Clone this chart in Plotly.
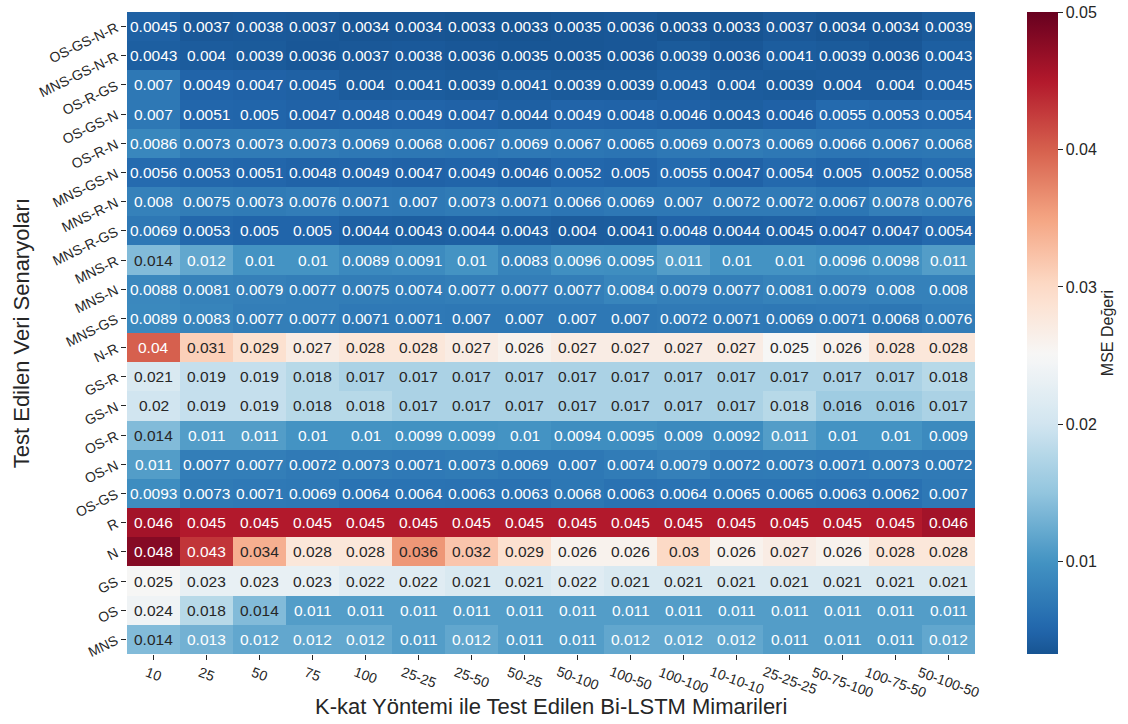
import plotly.graph_objects as go

# Test scenarios (rows, top to bottom) and Bi-LSTM architectures (columns)
scenarios = [
    "OS-GS-N-R", "MNS-GS-N-R", "OS-R-GS", "OS-GS-N", "OS-R-N", "MNS-GS-N",
    "MNS-R-N", "MNS-R-GS", "MNS-R", "MNS-N", "MNS-GS", "N-R", "GS-R", "GS-N",
    "OS-R", "OS-N", "OS-GS", "R", "N", "GS", "OS", "MNS",
]
architectures = [
    "10", "25", "50", "75", "100", "25-25", "25-50", "50-25", "50-100",
    "100-50", "100-100", "10-10-10", "25-25-25", "50-75-100", "100-75-50",
    "50-100-50",
]

# MSE values, one list per scenario
os_gs_n_r = [0.0045, 0.0037, 0.0038, 0.0037, 0.0034, 0.0034, 0.0033, 0.0033, 0.0035, 0.0036, 0.0033, 0.0033, 0.0037, 0.0034, 0.0034, 0.0039]
mns_gs_n_r = [0.0043, 0.004, 0.0039, 0.0036, 0.0037, 0.0038, 0.0036, 0.0035, 0.0035, 0.0036, 0.0039, 0.0036, 0.0041, 0.0039, 0.0036, 0.0043]
os_r_gs = [0.007, 0.0049, 0.0047, 0.0045, 0.004, 0.0041, 0.0039, 0.0041, 0.0039, 0.0039, 0.0043, 0.004, 0.0039, 0.004, 0.004, 0.0045]
os_gs_n = [0.007, 0.0051, 0.005, 0.0047, 0.0048, 0.0049, 0.0047, 0.0044, 0.0049, 0.0048, 0.0046, 0.0043, 0.0046, 0.0055, 0.0053, 0.0054]
os_r_n = [0.0086, 0.0073, 0.0073, 0.0073, 0.0069, 0.0068, 0.0067, 0.0069, 0.0067, 0.0065, 0.0069, 0.0073, 0.0069, 0.0066, 0.0067, 0.0068]
mns_gs_n = [0.0056, 0.0053, 0.0051, 0.0048, 0.0049, 0.0047, 0.0049, 0.0046, 0.0052, 0.005, 0.0055, 0.0047, 0.0054, 0.005, 0.0052, 0.0058]
mns_r_n = [0.008, 0.0075, 0.0073, 0.0076, 0.0071, 0.007, 0.0073, 0.0071, 0.0066, 0.0069, 0.007, 0.0072, 0.0072, 0.0067, 0.0078, 0.0076]
mns_r_gs = [0.0069, 0.0053, 0.005, 0.005, 0.0044, 0.0043, 0.0044, 0.0043, 0.004, 0.0041, 0.0048, 0.0044, 0.0045, 0.0047, 0.0047, 0.0054]
mns_r = [0.014, 0.012, 0.01, 0.01, 0.0089, 0.0091, 0.01, 0.0083, 0.0096, 0.0095, 0.011, 0.01, 0.01, 0.0096, 0.0098, 0.011]
mns_n = [0.0088, 0.0081, 0.0079, 0.0077, 0.0075, 0.0074, 0.0077, 0.0077, 0.0077, 0.0084, 0.0079, 0.0077, 0.0081, 0.0079, 0.008, 0.008]
mns_gs = [0.0089, 0.0083, 0.0077, 0.0077, 0.0071, 0.0071, 0.007, 0.007, 0.007, 0.007, 0.0072, 0.0071, 0.0069, 0.0071, 0.0068, 0.0076]
n_r = [0.04, 0.031, 0.029, 0.027, 0.028, 0.028, 0.027, 0.026, 0.027, 0.027, 0.027, 0.027, 0.025, 0.026, 0.028, 0.028]
gs_r = [0.021, 0.019, 0.019, 0.018, 0.017, 0.017, 0.017, 0.017, 0.017, 0.017, 0.017, 0.017, 0.017, 0.017, 0.017, 0.018]
gs_n = [0.02, 0.019, 0.019, 0.018, 0.018, 0.017, 0.017, 0.017, 0.017, 0.017, 0.017, 0.017, 0.018, 0.016, 0.016, 0.017]
os_r = [0.014, 0.011, 0.011, 0.01, 0.01, 0.0099, 0.0099, 0.01, 0.0094, 0.0095, 0.009, 0.0092, 0.011, 0.01, 0.01, 0.009]
os_n = [0.011, 0.0077, 0.0077, 0.0072, 0.0073, 0.0071, 0.0073, 0.0069, 0.007, 0.0074, 0.0079, 0.0072, 0.0073, 0.0071, 0.0073, 0.0072]
os_gs = [0.0093, 0.0073, 0.0071, 0.0069, 0.0064, 0.0064, 0.0063, 0.0063, 0.0068, 0.0063, 0.0064, 0.0065, 0.0065, 0.0063, 0.0062, 0.007]
r = [0.046, 0.045, 0.045, 0.045, 0.045, 0.045, 0.045, 0.045, 0.045, 0.045, 0.045, 0.045, 0.045, 0.045, 0.045, 0.046]
n = [0.048, 0.043, 0.034, 0.028, 0.028, 0.036, 0.032, 0.029, 0.026, 0.026, 0.03, 0.026, 0.027, 0.026, 0.028, 0.028]
gs = [0.025, 0.023, 0.023, 0.023, 0.022, 0.022, 0.021, 0.021, 0.022, 0.021, 0.021, 0.021, 0.021, 0.021, 0.021, 0.021]
os_ = [0.024, 0.018, 0.014, 0.011, 0.011, 0.011, 0.011, 0.011, 0.011, 0.011, 0.011, 0.011, 0.011, 0.011, 0.011, 0.011]
mns = [0.014, 0.013, 0.012, 0.012, 0.012, 0.011, 0.012, 0.011, 0.011, 0.012, 0.012, 0.012, 0.011, 0.011, 0.011, 0.012]

mse = [os_gs_n_r, mns_gs_n_r, os_r_gs, os_gs_n, os_r_n, mns_gs_n, mns_r_n,
       mns_r_gs, mns_r, mns_n, mns_gs, n_r, gs_r, gs_n, os_r, os_n, os_gs,
       r, n, gs, os_, mns]

cbar_ticks = [0.01, 0.02, 0.03, 0.04, 0.05]

# Diverging red-blue palette centred on 0.025 (full span 0 .. 0.05);
# the colour range itself runs from the smallest MSE up to 0.05.
rdbu_hex = ["#053061", "#2166ac", "#4393c3", "#92c5de", "#d1e5f0", "#f7f7f7",
            "#fddbc7", "#f4a582", "#d6604d", "#b2182b", "#67001f"]
rdbu_rgb = [tuple(int(h[i:i + 2], 16) for i in (1, 3, 5)) for h in rdbu_hex]
center = 0.025
zmax = 0.05
zmin = min(min(row) for row in mse)
span = max(zmax - center, center - zmin)
cmap_lo, cmap_hi = center - span, center + span


def color_at(v):
    t = (v - cmap_lo) / (cmap_hi - cmap_lo)
    t = max(0.0, min(1.0, t))
    pos = t * (len(rdbu_rgb) - 1)
    i = min(int(pos), len(rdbu_rgb) - 2)
    f = pos - i
    a, b = rdbu_rgb[i], rdbu_rgb[i + 1]
    return [(a[k] + (b[k] - a[k]) * f) / 255.0 for k in range(3)]


def to_css(rgb):
    return "rgb({:.0f},{:.0f},{:.0f})".format(*(c * 255 for c in rgb))


n_stops = 64
colorscale = []
for s in range(n_stops + 1):
    frac = s / n_stops
    colorscale.append([frac, to_css(color_at(zmin + frac * (zmax - zmin)))])


def luminance(rgb):
    lin = [c / 12.92 if c <= 0.03928 else ((c + 0.055) / 1.055) ** 2.4 for c in rgb]
    return 0.2126 * lin[0] + 0.7152 * lin[1] + 0.0722 * lin[2]


FONT = "Liberation Sans, Arial, sans-serif"
DARK = "#262626"

col_idx = list(range(len(architectures)))
row_idx = list(range(len(scenarios)))

fig = go.Figure(
    go.Heatmap(
        z=mse,
        x=col_idx,
        y=row_idx,
        zmin=zmin,
        zmax=zmax,
        colorscale=colorscale,
        xgap=0,
        ygap=0,
        colorbar=dict(
            title=dict(text="MSE Değeri", side="right",
                       font=dict(family=FONT, size=16, color=DARK)),
            thickness=31,
            len=1.0,
            lenmode="fraction",
            y=0.5,
            yanchor="middle",
            x=1.0618,
            xanchor="left",
            xpad=0,
            ypad=0,
            outlinewidth=0,
            tickvals=cbar_ticks,
            ticktext=[f"{v:g}" for v in cbar_ticks],
            ticks="outside",
            ticklen=5,
            tickcolor=DARK,
            tickfont=dict(family=FONT, size=16, color=DARK),
        ),
    )
)

# Cell labels, dark on light cells and white on dark cells
annotations = []
for i in row_idx:
    for j in col_idx:
        v = mse[i][j]
        txt_col = DARK if luminance(color_at(v)) > 0.408 else "white"
        annotations.append(dict(
            x=j, y=i, xref="x", yref="y",
            text=f"{v:.2g}", showarrow=False,
            font=dict(family=FONT, size=15.5, color=txt_col),
        ))

# Slanted column labels, centred under their ticks
for j, arch in enumerate(architectures):
    annotations.append(dict(
        x=j, xref="x", y=-0.0125, yref="paper",
        text=arch, textangle=20, showarrow=False,
        xanchor="center", yanchor="top", borderpad=0,
        font=dict(family=FONT, size=14, color=DARK),
    ))

annotations.append(dict(
    text="K-kat Yöntemi ile Test Edilen Bi-LSTM Mimarileri",
    x=0.5, y=-0.081, xref="paper", yref="paper",
    xanchor="center", yanchor="middle", showarrow=False,
    font=dict(family=FONT, size=22, color=DARK),
))
annotations.append(dict(
    text="Test Edilen Veri Senaryoları",
    x=-0.1247, y=0.5, xref="paper", yref="paper",
    xanchor="center", yanchor="middle", textangle=-90, showarrow=False,
    font=dict(family=FONT, size=22, color=DARK),
))

fig.update_layout(
    width=1128,
    height=724,
    margin=dict(l=127, r=143, t=12, b=70),
    paper_bgcolor="white",
    plot_bgcolor="white",
    font=dict(family=FONT, color=DARK),
    annotations=annotations,
    xaxis=dict(
        range=[-0.5, len(architectures) - 0.5],
        tickmode="array",
        tickvals=col_idx,
        showticklabels=False,
        ticks="outside",
        ticklen=5,
        tickcolor=DARK,
        showgrid=False,
        zeroline=False,
        showline=False,
    ),
    yaxis=dict(
        range=[len(scenarios) - 0.5, -0.5],
        tickmode="array",
        tickvals=row_idx,
        ticktext=scenarios,
        tickangle=-26,
        ticks="outside",
        ticklen=5,
        tickcolor=DARK,
        ticklabelstandoff=2,
        tickfont=dict(family=FONT, size=14, color=DARK),
        showgrid=False,
        zeroline=False,
        showline=False,
    ),
)

fig.write_html("out.html")
